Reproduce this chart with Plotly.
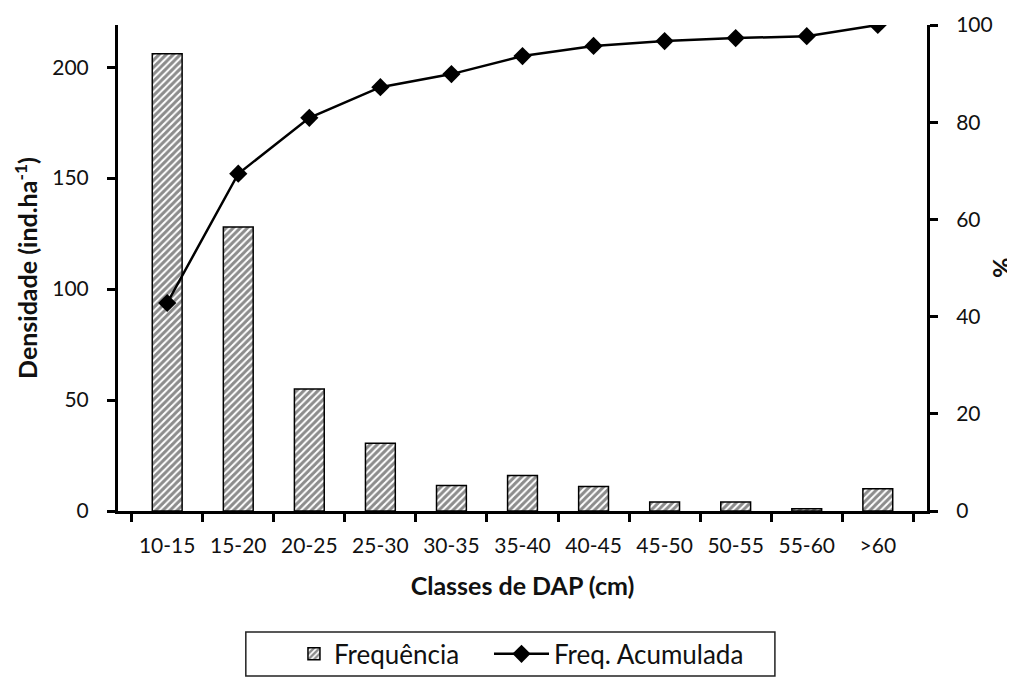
import plotly.graph_objects as go
from plotly.subplots import make_subplots

classes = ["10-15", "15-20", "20-25", "25-30", "30-35", "35-40", "40-45", "45-50", "50-55", "55-60", ">60"]
densidade = [206, 128, 55, 30.5, 11.5, 16, 11, 4, 4, 1, 10]
freq_acum = [42.8, 69.4, 80.9, 87.2, 89.9, 93.6, 95.7, 96.7, 97.3, 97.7, 100]

font_main = "Lato, 'Open Sans', sans-serif"
ink = "#111"

fig = make_subplots(specs=[[{"secondary_y": True}]])

fig.add_trace(go.Bar(
    x=classes, y=densidade, name="Frequência", legend="legend", showlegend=True,
    marker=dict(color="white", line=dict(color="black", width=1.5),
                pattern=dict(shape="/", fgcolor="#1a1a1a", bgcolor="white", size=5, solidity=0.6)),
), secondary_y=False)

fig.add_trace(go.Scatter(
    x=classes, y=freq_acum, name="Freq. Acumulada", mode="lines+markers", legend="legend2", showlegend=True,
    line=dict(color="black", width=2.5),
    marker=dict(symbol="diamond", size=14, color="black"),
), secondary_y=True)

axis_style = dict(showline=True, linecolor="black", linewidth=3, ticks="outside",
                  tickcolor="black", tickwidth=3, ticklen=8, showgrid=False, zeroline=False,
                  automargin=False, ticklabelstandoff=14,
                  tickfont=dict(size=21, color=ink, family=font_main))

fig.update_xaxes(**axis_style, tickson="boundaries", domain=[0, 1],
                 title=dict(text="<b>Classes de DAP (cm)</b>", standoff=22,
                            font=dict(size=25, color=ink, family=font_main)))
fig.update_yaxes(**axis_style, range=[0, 219], tickvals=[0, 50, 100, 150, 200],
                 title=dict(text="<b>Densidade (ind.ha<sup>-1</sup>)</b>", standoff=8,
                            font=dict(size=25, color=ink, family=font_main)),
                 secondary_y=False)
fig.update_yaxes(**axis_style, range=[0, 100], tickvals=[0, 20, 40, 60, 80, 100],
                 secondary_y=True)

# right axis title drawn as rotated text, close to the tick labels
fig.add_annotation(text="<b>%</b>", xref="paper", yref="paper", x=1.0915, y=0.5,
                   xanchor="center", yanchor="middle", textangle=-90, showarrow=False,
                   font=dict(size=25, color=ink, family=font_main))

# legend frame around both legend entries
fig.add_shape(type="rect", xref="paper", yref="paper", x0=0.158, x1=0.812, y0=-0.3395, y1=-0.249,
              line=dict(color="#222", width=1.5), fillcolor="rgba(0,0,0,0)")

leg_common = dict(orientation="h", yanchor="middle", y=-0.294, xanchor="left",
                  borderwidth=0, bgcolor="rgba(0,0,0,0)", font=dict(size=26, color=ink))

# page body adds an 8px offset, so margins are shifted to keep the plot area in place
fig.update_layout(
    width=1015, height=678,
    margin=dict(l=110, r=96, t=17, b=175, autoexpand=False),
    plot_bgcolor="white", paper_bgcolor="white",
    bargap=0.58, showlegend=True,
    font=dict(family=font_main, color=ink),
    legend=dict(**leg_common, x=0.2175, itemwidth=30),
    legend2=dict(**leg_common, x=0.4586, itemwidth=55),
)

fig.write_html("out.html")
